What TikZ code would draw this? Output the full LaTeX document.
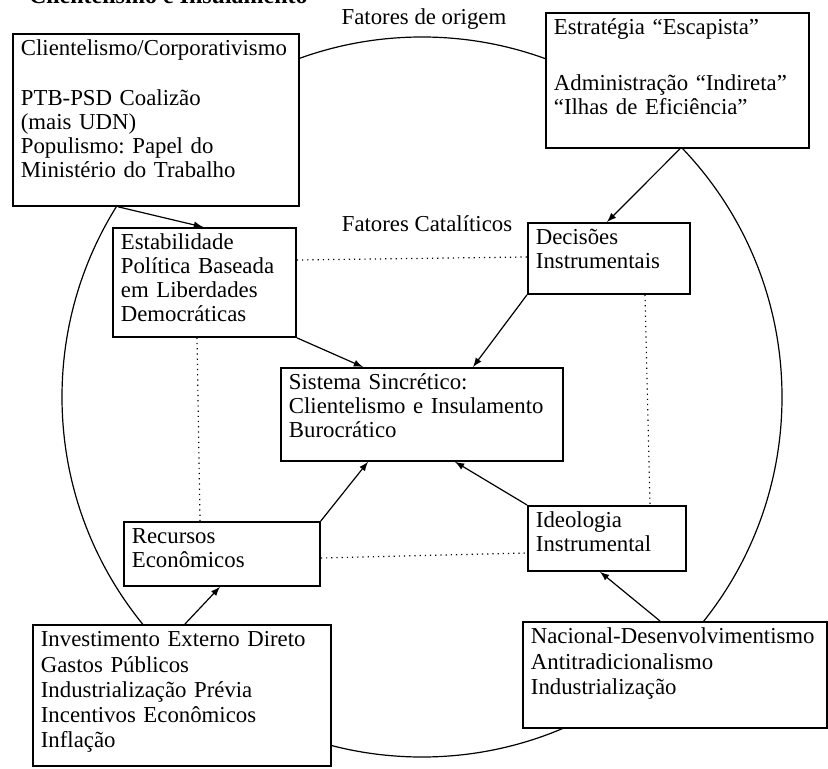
\documentclass[tikz,border=0pt]{standalone}
\usepackage{fontspec}
\setmainfont{Liberation Serif}
\frenchspacing
\usetikzlibrary{calc}

\tikzset{
  box/.style={draw, line width=0.9pt, fill=white, anchor=north west, align=left,
    inner xsep=4pt, inner ysep=3pt, text height=8pt,
    font=\fontsize{11.4pt}{12pt}\selectfont},
  fator/.style={font=\fontsize{11.4pt}{12pt}\selectfont},
  link/.style={->, line width=0.6pt},
  tie/.style={dotted, line width=0.6pt}
}

\begin{document}
\begin{tikzpicture}[x=0.5pt, y=-0.5pt, >=latex]

  \useasboundingbox (0,0) rectangle (828,769);

  % title, cut by the page edge
  \node[anchor=base west, font=\bfseries\fontsize{12pt}{14pt}\selectfont] (titulo) at (22,4) {Clientelismo e Insulamento};

  % the big circle
  \draw[line width=0.6pt] (422,397) circle[radius=180pt];

  \node[fator] (origem) at (424,19) {Fatores de origem};
  \node[fator] (catal) at (427,224) {Fatores Catalíticos};

  % outer boxes
  \node[box, text width=135pt, text depth=72pt] (clt) at (12,33)
    {Clientelismo/Corporativismo\\[13pt]
     PTB-PSD Coalizão\\ (mais UDN)\\ Populismo: Papel do\\ Ministério do Trabalho};
  \node[box, text width=123.5pt, text depth=53.5pt] (esc) at (545,12)
    {Estratégia “Escapista”\\[16pt]
     Administração “Indireta”\\ “Ilhas de Eficiência”};
  \node[box, text width=141pt, text depth=56.5pt, font=\fontsize{11.4pt}{12.6pt}\selectfont] (inv) at (32,624)
    {Investimento Externo Direto\\ Gastos Públicos\\ Industrialização Prévia\\ Incentivos Econômicos\\ Inflação};
  \node[box, text width=144pt, text depth=39pt, font=\fontsize{11.4pt}{12.6pt}\selectfont] (nac) at (522,621)
    {Nacional-Desenvolvimentismo\\ Antitradicionalismo\\ Industrialização};

  % inner boxes
  \node[box, text width=83.5pt, text depth=40.5pt] (stab) at (112,227)
    {Estabilidade\\ Política Baseada\\ em Liberdades\\ Democráticas};
  \node[box, text width=73pt, text depth=21.5pt] (dec) at (527,222)
    {Decisões\\ Instrumentais};
  \node[box, text width=133pt, text depth=32.5pt] (sis) at (280,367)
    {Sistema Sincrético:\\ Clientelismo e Insulamento\\ Burocrático};
  \node[box, text width=90pt, text depth=18pt] (rec) at (123,521)
    {Recursos\\ Econômicos};
  \node[box, text width=71pt, text depth=18.5pt] (ide) at (527,505)
    {Ideologia\\ Instrumental};

  % arrows
  \draw[link] ($(clt.south west)+(106,0)$) -- ($(stab.north west)+(91,0)$);
  \draw[link] ($(esc.south west)+(135,0)$) -- ($(dec.north west)+(80,0)$);
  \draw[link] (stab.south east) -- ($(sis.north west)+(83,0)$);
  \draw[link] (dec.south west) -- ($(sis.north west)+(193,0)$);
  \draw[link] (rec.north east) -- ($(sis.south west)+(88,0)$);
  \draw[link] (ide.north west) -- ($(sis.south west)+(175,0)$);
  \draw[link] ($(inv.north west)+(153,0)$) -- ($(rec.south west)+(97,0)$);
  \draw[link] ($(nac.north west)+(138,0)$) -- ($(ide.south west)+(73,0)$);

  % dotted square
  \draw[tie] ($(stab.north east)+(0,33)$) -- ($(dec.north west)+(0,35)$);
  \draw[tie] ($(stab.south west)+(85,0)$) -- ($(rec.north west)+(77,0)$);
  \draw[tie] ($(dec.south west)+(118,0)$) -- ($(ide.north west)+(123,0)$);
  \draw[tie] ($(rec.north east)+(0,37)$) -- ($(ide.north west)+(0,48)$);

\end{tikzpicture}
\end{document}
